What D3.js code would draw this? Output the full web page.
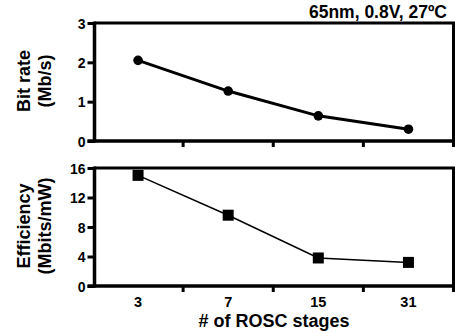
<!DOCTYPE html>
<html>
<head>
<meta charset="utf-8">
<script src="https://cdn.jsdelivr.net/npm/d3@7"></script>
<style>
  body { margin: 0; background: #fff; }
  text { font-family: "Liberation Sans", Arial, sans-serif; font-weight: bold; fill: #000; }
</style>
</head>
<body>
<div id="chart"></div>
<script>
const stages = ['3', '7', '15', '31'];
const bitRate = [2.05, 1.27, 0.64, 0.30];
const efficiency = [15.0, 9.6, 3.8, 3.2];
const bitRateTicks = [0, 1, 2, 3];
const effTicks = [0, 4, 8, 12, 16];

const W = 455, H = 333;
const svg = d3.select('#chart').append('svg')
  .attr('width', W).attr('height', H);

const left = 94.5, right = 453.5;
const x = d3.scaleBand().domain(stages).range([left - 1.5, right]);

function panel(top, bottom, domain, ticks, values, yLabel, marker, lineW) {
  const y = d3.scaleLinear().domain(domain).range([bottom, top]);

  // box top / right
  svg.append('path')
    .attr('d', `M${left},${top}H${right}V${bottom}`)
    .attr('fill', 'none').attr('stroke', '#000').attr('stroke-width', 3);

  // left axis
  const ya = svg.append('g').attr('transform', `translate(${left},0)`)
    .call(d3.axisLeft(y).tickValues(ticks).tickFormat(d3.format('d')).tickSize(7).tickPadding(2));
  ya.select('.domain').attr('stroke', '#000').attr('stroke-width', 3.5)
    .attr('d', `M0,${top - 1.5}V${bottom + 1.5}`);
  ya.selectAll('.tick line').attr('stroke', '#000').attr('stroke-width', 3);
  ya.selectAll('.tick text').style('font-size', '14px').attr('dy', '0.36em');

  // bottom axis with ticks at band edges
  const edges = stages.map(s => x(s)).slice(1).concat([right]);
  svg.append('line').attr('x1', left - 7).attr('x2', right + 1.5).attr('y1', bottom).attr('y2', bottom)
    .attr('stroke', '#000').attr('stroke-width', 3.5);
  svg.selectAll(null).data(edges).enter().append('line')
    .attr('x1', d => d).attr('x2', d => d)
    .attr('y1', bottom).attr('y2', bottom + 6)
    .attr('stroke', '#000').attr('stroke-width', 3);

  const line = d3.line()
    .x((d, i) => x(stages[i]) + x.bandwidth() / 2)
    .y(d => y(d));
  svg.append('path').datum(values)
    .attr('d', line).attr('fill', 'none')
    .attr('stroke', '#000').attr('stroke-width', lineW);

  if (marker === 'circle') {
    svg.selectAll(null).data(values).enter().append('circle')
      .attr('cx', (d, i) => x(stages[i]) + x.bandwidth() / 2)
      .attr('cy', d => y(d)).attr('r', 4.8).attr('fill', '#000');
  } else {
    svg.selectAll(null).data(values).enter().append('rect')
      .attr('x', (d, i) => x(stages[i]) + x.bandwidth() / 2 - 5.5)
      .attr('y', d => y(d) - 5.5).attr('width', 11).attr('height', 11).attr('fill', '#000');
  }

  const cy = (top + bottom) / 2 - 1;
  const lab = svg.append('text')
    .attr('transform', `translate(30,${cy}) rotate(-90)`)
    .attr('text-anchor', 'middle')
    .style('font-size', '18px');
  lab.append('tspan').attr('x', 0).attr('dy', 0).text(yLabel[0]);
  lab.append('tspan').attr('x', 0).attr('dy', 21).text(yLabel[1]);
}

panel(23, 141, [0, 3], bitRateTicks, bitRate, ['Bit rate', '(Mb/s)'], 'circle', 3);
panel(168, 286, [0, 16], effTicks, efficiency, ['Efficiency', '(Mbits/mW)'], 'square', 1.5);

// x tick labels
svg.selectAll(null).data(stages).enter().append('text')
  .attr('x', d => x(d) + x.bandwidth() / 2)
  .attr('y', 307)
  .attr('text-anchor', 'middle')
  .style('font-size', '14.5px')
  .text(d => d);

svg.append('text')
  .attr('x', 274).attr('y', 327)
  .attr('text-anchor', 'middle')
  .style('font-size', '18px')
  .text('# of ROSC stages');

svg.append('text')
  .attr('x', 447).attr('y', 18)
  .attr('text-anchor', 'end')
  .style('font-size', '17.5px')
  .text('65nm, 0.8V, 27ºC');
</script>
</body>
</html>
